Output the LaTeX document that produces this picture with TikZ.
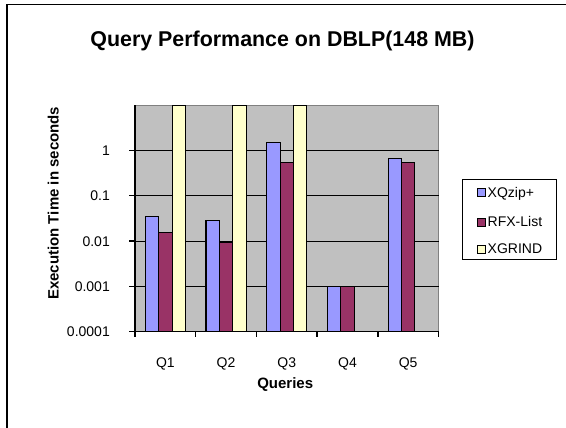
\documentclass[tikz,border=0pt]{standalone}
\usepackage{fontspec}
\setmainfont{Liberation Sans}
\definecolor{xqcol}{HTML}{9999FF}
\definecolor{rfxcol}{HTML}{993366}
\definecolor{xgcol}{HTML}{FFFFCC}
\definecolor{plotbg}{HTML}{C0C0C0}
\definecolor{plotedge}{HTML}{808080}
\tikzset{
  barbox/.style={draw=black, line width=1.1pt},
  xqbar/.style={barbox, fill=xqcol},
  rfxbar/.style={barbox, fill=rfxcol},
  xgbar/.style={barbox, fill=xgcol},
  gridline/.style={black, line width=1.2pt},
  axisline/.style={black, line width=1.4pt},
  ticklabel/.style={inner sep=0pt, font=\fontsize{14}{16}\selectfont},
  boldlabel/.style={inner sep=0pt, font=\fontsize{15}{17}\selectfont\bfseries},
  legendtext/.style={inner sep=0pt, anchor=base west, font=\fontsize{14}{16}\selectfont},
  legendkey/.style={draw=black, line width=1pt},
}
\begin{document}
\begin{tikzpicture}[x=1pt, y=-1pt]
\useasboundingbox (0,0) rectangle (566,428);
\clip (0,0) rectangle (566,428);
\fill[white] (0,0) rectangle (566,428);

% outer chart frame (left and top edges)
\draw[black, line width=1.6pt] (7,440) -- (7,4.5) -- (580,4.5);

% title
\node[inner sep=0pt, anchor=base, font=\fontsize{21.4}{24}\selectfont\bfseries]
  (title) at (282.5,46.5) {Query Performance on DBLP(148 MB)};

% plot area
\fill[plotbg] (135,105.2) rectangle (438.5,331.7);
\draw[plotedge, line width=0.8pt] (135,105.2) -- (438.5,105.2) -- (438.5,331.7);

% horizontal gridlines (decades 1, 0.1, 0.01, 0.001)
\foreach \gy in {150.5,195.8,241.1,286.4}
  \draw[gridline] (135,\gy) -- (438.5,\gy);

% bars: category start = 135 + 60.7*i, offset 10.25, bar width 13.4
% Q1
\filldraw[xqbar]  (145.25,216.5) rectangle (158.65,331.7);
\filldraw[rfxbar] (158.65,232.5) rectangle (172.05,331.7);
\filldraw[xgbar]  (172.05,105.2) rectangle (185.45,331.7);
% Q2
\filldraw[xqbar]  (205.95,220.2) rectangle (219.35,331.7);
\filldraw[rfxbar] (219.35,242.7) rectangle (232.75,331.7);
\filldraw[xgbar]  (232.75,105.2) rectangle (246.15,331.7);
% Q3
\filldraw[xqbar]  (266.65,142.5) rectangle (280.05,331.7);
\filldraw[rfxbar] (280.05,162.3) rectangle (293.45,331.7);
\filldraw[xgbar]  (293.45,105.2) rectangle (306.85,331.7);
% Q4
\filldraw[xqbar]  (327.35,286.4) rectangle (340.75,331.7);
\filldraw[rfxbar] (340.75,286.4) rectangle (354.15,331.7);
% Q5
\filldraw[xqbar]  (388.05,158.4) rectangle (401.45,331.7);
\filldraw[rfxbar] (401.45,162.3) rectangle (414.85,331.7);

% axes
\draw[axisline] (135,105.2) -- (135,336.5);
\draw[axisline] (129,331.7) -- (438.5,331.7);
\foreach \gy in {150.5,195.8,241.1,286.4}
  \draw[axisline] (129,\gy) -- (135,\gy);
\foreach \tx in {195.7,256.4,317.1,377.8,438.5}
  \draw[axisline] (\tx,331.7) -- (\tx,336.5);

% value axis labels
\node[ticklabel, anchor=base east] (v1)    at (110,155.5) {1};
\node[ticklabel, anchor=base east] (v01)   at (110,200.8) {0.1};
\node[ticklabel, anchor=base east] (v001)  at (110,246.1) {0.01};
\node[ticklabel, anchor=base east] (v0001) at (110,291.4) {0.001};
\node[ticklabel, anchor=base east] (vmin)  at (110,336.7) {0.0001};

% category labels
\node[ticklabel, anchor=base] (q1) at (165.35,367) {Q1};
\node[ticklabel, anchor=base] (q2) at (226.05,367) {Q2};
\node[ticklabel, anchor=base] (q3) at (286.75,367) {Q3};
\node[ticklabel, anchor=base] (q4) at (347.45,367) {Q4};
\node[ticklabel, anchor=base] (q5) at (408.15,367) {Q5};

% axis titles
\node[boldlabel, anchor=base] (xtitle) at (285.2,388) {Queries};
\node[boldlabel, anchor=base, rotate=90] (ytitle) at (58.5,203.3) {Execution Time in seconds};

% legend
\draw[black, line width=1.3pt] (462.3,179.3) rectangle (556.7,259.3);
\filldraw[legendkey, fill=xqcol]  (477,189)   rectangle (485,197);
\filldraw[legendkey, fill=rfxcol] (477,218)   rectangle (485,226);
\filldraw[legendkey, fill=xgcol]  (477,245.5) rectangle (485,253.5);
\node[legendtext] (lxq)  at (487.5,197.7) {XQzip+};
\node[legendtext] (lrfx) at (487.5,226.7) {RFX-List};
\node[legendtext] (lxg)  at (487.5,254)   {XGRIND};
\end{tikzpicture}
\end{document}
